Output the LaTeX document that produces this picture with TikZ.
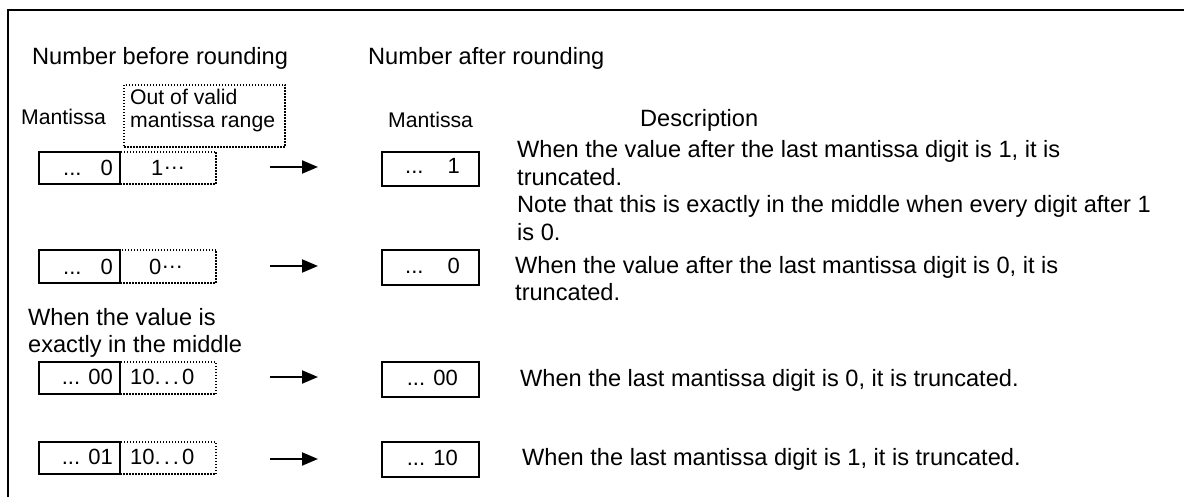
\documentclass[tikz,border=0pt]{standalone}
\usepackage{fontspec}
\setmainfont{Liberation Sans}
\usetikzlibrary{arrows.meta}
\begin{document}
\begin{tikzpicture}[x=1pt,y=-1pt,
  big/.style={font=\fontsize{23.6}{28}\selectfont, inner sep=0, anchor=base west},
  small/.style={font=\fontsize{21.2}{25}\selectfont, inner sep=0, anchor=base west},
  boxtxt/.style={font=\fontsize{22}{25}\selectfont, inner sep=0},
  solidbox/.style={draw, line width=2.2pt, inner sep=0, minimum width=81pt, minimum height=32pt},
  dotbox/.style={draw, line width=1.6pt, dash pattern=on 1.5pt off 1.5pt, inner sep=0},
  rbox/.style={draw, line width=1.8pt, inner sep=0, minimum width=97pt, minimum height=34pt},
  arr/.style={line width=2pt, -{Triangle[length=16pt,width=13pt]}}
]
\useasboundingbox (0,0) rectangle (1184,497);
\draw[line width=2pt] (8,497) -- (8,10.5) -- (1184,10.5);

% headings
\node[big] (t1) at (32,65) {Number before rounding};
\node[big] (t2) at (368,65) {Number after rounding};
\node[small] (m1) at (21,125) {Mantissa};
\node[dotbox, minimum width=161pt, minimum height=62pt] (oor) at (204.5,116) {};
\node[small] (o1) at (130,105) {Out of valid};
\node[small] (o2) at (130,128) {mantissa range};
\node[small] (m2) at (388,128) {Mantissa};
\node[big] (desc) at (640,127) {Description};

% left boxes
\node[solidbox] (l1) at (79.5,168) {};
\node[dotbox, minimum width=96pt, minimum height=32pt] (e1) at (168,168) {};
\node[solidbox, minimum height=33pt] (l2) at (79.5,266.5) {};
\node[dotbox, minimum width=96pt, minimum height=33pt] (e2) at (168,266.5) {};
\node[solidbox] (l3) at (79.5,378) {};
\node[dotbox, minimum width=96pt, minimum height=32pt] (e3) at (168,378) {};
\node[solidbox] (l4) at (79.5,458) {};
\node[dotbox, minimum width=96pt, minimum height=32pt] (e4) at (168,458) {};

\node[boxtxt, anchor=base east] (lt1) at (113,176) {...\hspace{19pt}0};
\node[boxtxt, anchor=base east] (lt2) at (113,275) {...\hspace{19pt}0};
\node[boxtxt, anchor=base east] (lt3) at (113,384) {... 00};
\node[boxtxt, anchor=base east] (lt4) at (113,464) {... 01};

\node[boxtxt, anchor=base west] (et1) at (151,176) {1\raisebox{6pt}{…}};
\node[boxtxt, anchor=base west] (et2) at (149,275) {0\raisebox{6pt}{…}};
\node[boxtxt, anchor=base west] (et3) at (130,384) {10.\hspace{3pt}.\hspace{3pt}.\hspace{3pt}0};
\node[boxtxt, anchor=base west] (et4) at (130,464) {10.\hspace{3pt}.\hspace{3pt}.\hspace{3pt}0};

% right boxes
\node[rbox] (r1) at (430.5,169) {};
\node[rbox, minimum height=35pt] (r2) at (430.5,267.5) {};
\node[rbox, minimum height=35pt] (r3) at (430.5,379.5) {};
\node[rbox, minimum height=35pt] (r4) at (430.5,459.5) {};

\node[boxtxt, anchor=base east] (rt1) at (460,174) {...\hspace{24pt}1};
\node[boxtxt, anchor=base east] (rt2) at (460,273) {...\hspace{24pt}0};
\node[boxtxt, anchor=base east] (rt3) at (458,385) {... 00};
\node[boxtxt, anchor=base east] (rt4) at (458,465) {... 10};

% arrows
\coordinate (a1s) at (270,167); \coordinate (a1e) at (318,167);
\coordinate (a2s) at (270,266); \coordinate (a2e) at (318,266);
\coordinate (a3s) at (270,377); \coordinate (a3e) at (318,377);
\coordinate (a4s) at (270,459); \coordinate (a4e) at (318,459);
\draw[arr] (a1s) -- (a1e);
\draw[arr] (a2s) -- (a2e);
\draw[arr] (a3s) -- (a3e);
\draw[arr] (a4s) -- (a4e);

% middle label
\node[big] (w1) at (28,325) {When the value is};
\node[big] (w2) at (28,352) {exactly in the middle};

% descriptions
\node[big] (d1a) at (517,158) {When the value after the last mantissa digit is 1, it is};
\node[big] (d1b) at (517,186) {truncated.};
\node[big] (d1c) at (517,213) {Note that this is exactly in the middle when every digit after 1};
\node[big] (d1d) at (517,241) {is 0.};
\node[big] (d2a) at (515,274) {When the value after the last mantissa digit is 0, it is};
\node[big] (d2b) at (515,301) {truncated.};
\node[big] (d3) at (520,386) {When the last mantissa digit is 0, it is truncated.};
\node[big] (d4) at (522,465) {When the last mantissa digit is 1, it is truncated.};
\end{tikzpicture}
\end{document}
